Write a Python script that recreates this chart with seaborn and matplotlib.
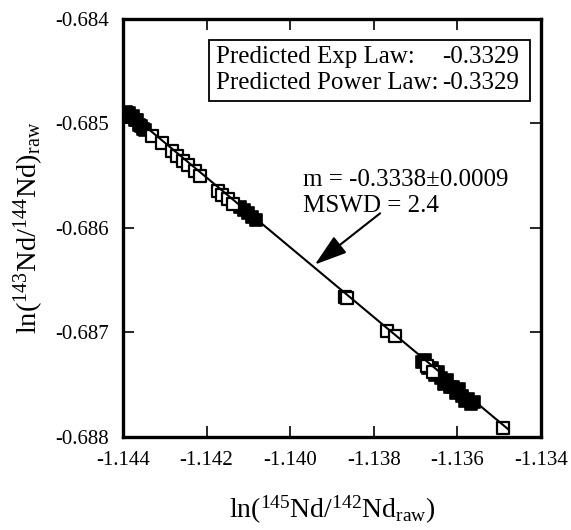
import matplotlib
matplotlib.use("Agg")
import matplotlib.pyplot as plt
from matplotlib.patches import Rectangle
import seaborn as sns
import pandas as pd

# measured ratios, filled squares
solid_x = [-1.14393, -1.14386, -1.14381, -1.14376, -1.14371, -1.14367, -1.14362,
           -1.14357, -1.14352, -1.14347,
           -1.14120, -1.14111, -1.14101, -1.14091, -1.14082,
           -1.136847, -1.136775, -1.136703, -1.136608, -1.136536, -1.136464,
           -1.136392, -1.136321, -1.136249, -1.136177, -1.136105, -1.136033,
           -1.135962, -1.135890, -1.135818, -1.135746, -1.135675, -1.135603]
solid_y = [-0.68489, -0.68490, -0.68494, -0.68493, -0.68497, -0.68497, -0.68501,
           -0.68502, -0.68505, -0.68506,
           -0.685799, -0.685828, -0.685856, -0.685895, -0.685923,
           -0.687287, -0.687263, -0.687344, -0.687340, -0.687411, -0.687378,
           -0.687440, -0.687493, -0.687459, -0.687522, -0.687526, -0.687579,
           -0.687545, -0.687608, -0.687651, -0.687636, -0.687689, -0.687665]

# open squares
open_x = [-1.143306, -1.143067, -1.142828, -1.142708, -1.142565, -1.142445,
          -1.142278, -1.142158,
          -1.141727, -1.141632, -1.141488, -1.141368,
          -1.138689, -1.138641,
          -1.137684, -1.137493, -1.136727, -1.136584,
          -1.134909]
open_y = [-0.685120, -0.685187, -0.685263, -0.685311, -0.685359, -0.685397,
          -0.685455, -0.685502,
          -0.685646, -0.685684, -0.685722, -0.685770,
          -0.686660, -0.686670,
          -0.686986, -0.687033, -0.687321, -0.687378,
          -0.687914]

# fitted line
slope = -0.3338
fit_x = [-1.1440, -1.13478]
fit_y0 = -0.68485

x_ticks = [-1.144, -1.142, -1.140, -1.138, -1.136, -1.134]
y_ticks = [-0.684, -0.685, -0.686, -0.687, -0.688]

sns.set_style("ticks")
plt.rcParams["font.family"] = ["Liberation Serif", "DejaVu Serif"]
plt.rcParams["mathtext.fontset"] = "custom"
plt.rcParams["mathtext.rm"] = "Liberation Serif"
plt.rcParams["mathtext.it"] = "Liberation Serif:italic"
plt.rcParams["axes.unicode_minus"] = False
plt.rcParams["axes.edgecolor"] = "black"
plt.rcParams["xtick.color"] = "black"
plt.rcParams["ytick.color"] = "black"
plt.rcParams["text.color"] = "black"
plt.rcParams["axes.labelcolor"] = "black"

df_solid = pd.DataFrame({"x": solid_x, "y": solid_y})
df_open = pd.DataFrame({"x": open_x, "y": open_y})
fit = pd.DataFrame({"x": fit_x,
                    "y": [fit_y0 + slope * (v - fit_x[0]) for v in fit_x]})

fig = plt.figure(figsize=(5.71, 5.30), dpi=100)
ax = fig.add_axes([0.2154, 0.1755, 0.7321, 0.7887])

sns.scatterplot(data=df_solid, x="x", y="y", marker="s", s=70, color="black",
                edgecolor="black", linewidth=1.2, ax=ax, zorder=2)
sns.scatterplot(data=df_open, x="x", y="y", marker="s", s=70, color="white",
                edgecolor="black", linewidth=1.6, ax=ax, zorder=3)
sns.lineplot(data=fit, x="x", y="y", color="black", linewidth=1.5, ax=ax,
             zorder=4)

ax.set_xlim(-1.144, -1.134)
ax.set_ylim(-0.688, -0.684)
ax.set_xticks(x_ticks)
ax.set_xticklabels([f"{v:.3f}" for v in x_ticks])
ax.set_yticks(y_ticks)
ax.set_yticklabels([f"{v:.3f}" for v in y_ticks])
ax.tick_params(direction="in", length=8, width=1.2, labelsize=15,
               top=True, right=True, pad=10)
for sp in ax.spines.values():
    sp.set_linewidth(2.4)
    sp.set_visible(True)

ax.set_xlabel(r"ln($^{145}$Nd/$^{142}$Nd$_{\rm raw}$)", fontsize=20, labelpad=17)
ax.set_ylabel(r"ln($^{143}$Nd/$^{144}$Nd)$_{\rm raw}$", fontsize=20.5, labelpad=7)

# legend box with predicted slopes
ax.add_patch(Rectangle((0.2057, 0.8038), 0.768, 0.146, transform=ax.transAxes,
                       facecolor="white", edgecolor="black", linewidth=1.3,
                       zorder=5))
ax.text(0.2225, 0.8947, "Predicted Exp Law:", transform=ax.transAxes,
        fontsize=18, va="baseline", zorder=6)
ax.text(0.763, 0.8947, "-0.3329", transform=ax.transAxes,
        fontsize=18, va="baseline", zorder=6)
ax.text(0.2225, 0.8325, "Predicted Power Law:", transform=ax.transAxes,
        fontsize=18, va="baseline", zorder=6)
ax.text(0.763, 0.8325, "-0.3329", transform=ax.transAxes,
        fontsize=18, va="baseline", zorder=6)

ax.text(-1.13969, -0.68560, "m = -0.3338\u00b10.0009", fontsize=18,
        va="baseline")
ax.text(-1.13969, -0.68585, "MSWD = 2.4", fontsize=18, va="baseline")
ax.annotate("", xy=(-1.13941, -0.68635), xytext=(-1.13785, -0.68586),
            arrowprops=dict(arrowstyle="-|>,head_length=1.0,head_width=0.32",
                            mutation_scale=20, color="black", linewidth=1.5,
                            shrinkA=0, shrinkB=0))

fig.savefig("out.png", dpi=100)
